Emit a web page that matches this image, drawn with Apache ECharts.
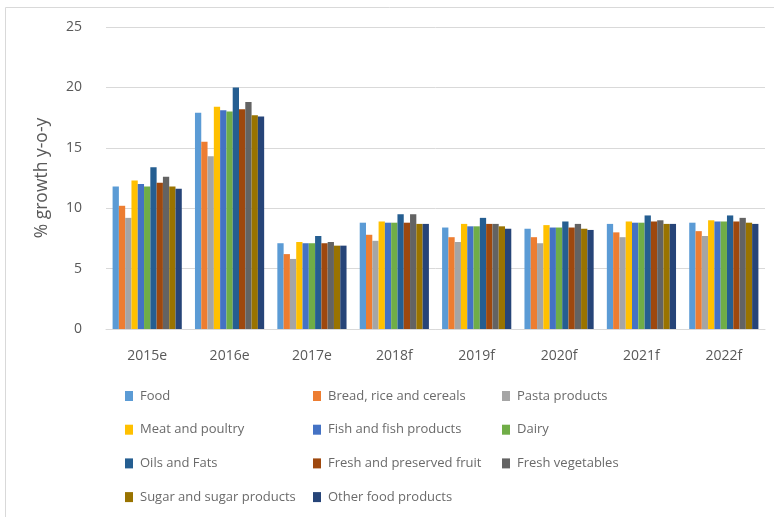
<!DOCTYPE html>
<html>
<head>
<meta charset="utf-8">
<script src="https://cdn.jsdelivr.net/npm/echarts@6/dist/echarts.min.js"></script>
<style>
html,body{margin:0;padding:0;background:#fff;}
#c{width:774px;height:517px;}
</style>
</head>
<body>
<div id="c"></div>
<script>
const categories = ['2015e','2016e','2017e','2018f','2019f','2020f','2021f','2022f'];
const seriesNames = ['Food','Bread, rice and cereals','Pasta products','Meat and poultry','Fish and fish products','Dairy','Oils and Fats','Fresh and preserved fruit','Fresh vegetables','Sugar and sugar products','Other food products'];
const food      = [11.8, 17.9, 7.1, 8.8, 8.4, 8.3, 8.7, 8.8];
const bread     = [10.2, 15.5, 6.2, 7.8, 7.6, 7.6, 8.0, 8.1];
const pasta     = [9.2, 14.3, 5.8, 7.3, 7.2, 7.1, 7.6, 7.7];
const meat      = [12.3, 18.4, 7.2, 8.9, 8.7, 8.6, 8.9, 9.0];
const fish      = [12.0, 18.1, 7.1, 8.8, 8.5, 8.4, 8.8, 8.9];
const dairy     = [11.8, 18.0, 7.1, 8.8, 8.5, 8.4, 8.8, 8.9];
const oils      = [13.4, 20.0, 7.7, 9.5, 9.2, 8.9, 9.4, 9.4];
const fruit     = [12.1, 18.2, 7.1, 8.8, 8.7, 8.4, 8.9, 8.9];
const veg       = [12.6, 18.8, 7.2, 9.5, 8.7, 8.7, 9.0, 9.2];
const sugar     = [11.8, 17.7, 6.9, 8.7, 8.5, 8.3, 8.7, 8.8];
const other     = [11.6, 17.6, 6.9, 8.7, 8.3, 8.2, 8.7, 8.7];
const yTicks = [0, 5, 10, 15, 20, 25];

const values = [food, bread, pasta, meat, fish, dairy, oils, fruit, veg, sugar, other];
const colors = ['#5B9BD5','#ED7D31','#A5A5A5','#FFC000','#4472C4','#70AD47','#255E91','#9E480E','#636363','#997300','#264478'];
const FONT = '"Open Sans", sans-serif';
const TXT = '#595959';

const chart = echarts.init(document.getElementById('c'));
const legendBase = {
  orient: 'vertical',
  top: 384,
  itemWidth: 8,
  itemHeight: 10,
  itemGap: 19.7,
  icon: 'rect',
  selectedMode: false,
  textStyle: {fontFamily: FONT, fontSize: 13, color: '#6a6a6a', lineHeight: 14, padding: [0,0,0,2]}
};
chart.setOption({
  animation: false,
  color: colors,
  graphic: [{
    type: 'polyline',
    shape: {points: [[5.5, 517], [5.5, 7.5], [774, 7.5]]},
    style: {stroke: '#d9d9d9', lineWidth: 1, fill: 'none'}
  }],
  grid: {left: 106, right: 9, top: 27, bottom: 188},
  legend: [
    Object.assign({}, legendBase, {left: 120, data: [seriesNames[0], seriesNames[3], seriesNames[6], seriesNames[9]]}),
    Object.assign({}, legendBase, {left: 308, data: [seriesNames[1], seriesNames[4], seriesNames[7], seriesNames[10]]}),
    Object.assign({}, legendBase, {left: 497, data: [seriesNames[2], seriesNames[5], seriesNames[8]]})
  ],
  xAxis: {
    type: 'category',
    data: categories,
    axisLine: {lineStyle: {color: '#d9d9d9', width: 1}},
    axisTick: {show: false},
    axisLabel: {fontFamily: FONT, fontSize: 14, color: TXT, margin: 20}
  },
  yAxis: {
    type: 'value',
    min: yTicks[0],
    max: yTicks[yTicks.length - 1],
    interval: 5,
    name: '% growth y-o-y',
    nameLocation: 'middle',
    nameGap: 55,
    nameTextStyle: {fontFamily: FONT, fontSize: 17.5, color: TXT},
    axisLine: {show: false},
    axisTick: {show: false},
    splitLine: {lineStyle: {color: '#d9d9d9', width: 1}},
    axisLabel: {fontFamily: FONT, fontSize: 14, color: TXT, margin: 24}
  },
  series: seriesNames.map((n, i) => ({
    name: n,
    type: 'bar',
    data: values[i],
    barGap: '0%',
    barCategoryGap: '16%'
  }))
});
</script>
</body>
</html>
